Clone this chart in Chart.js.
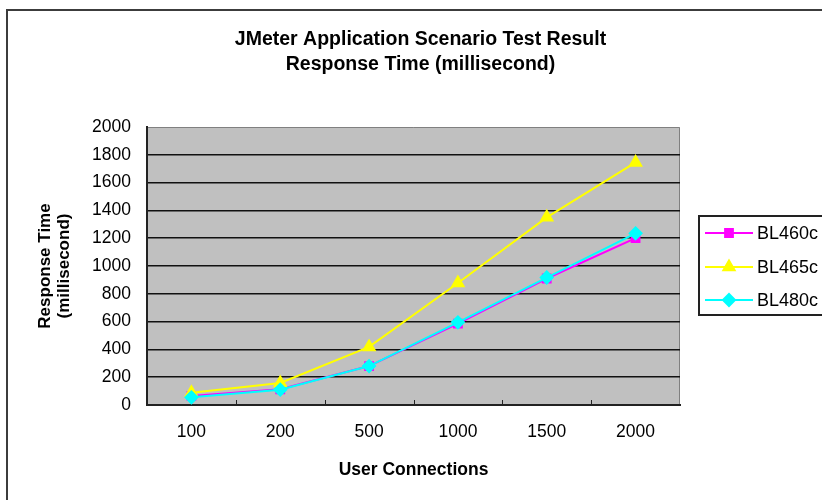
<!DOCTYPE html>
<html>
<head>
<meta charset="utf-8">
<script src="https://cdn.jsdelivr.net/npm/chart.js@4"></script>
<style>
  html, body { margin: 0; padding: 0; background: #fff; }
  #wrap { position: relative; width: 822px; height: 500px; }
</style>
</head>
<body>
<div id="wrap"><canvas id="js--chart" width="822" height="500"></canvas></div>
<script>
const connections = ['100', '200', '500', '1000', '1500', '2000'];
const bl460c = [65, 113, 280, 585, 910, 1200];
const bl465c = [88, 158, 418, 878, 1350, 1745];
const bl480c = [55, 110, 280, 595, 917, 1235];
const seriesNames = ['BL460c', 'BL465c', 'BL480c'];
const titleLines = ['JMeter Application Scenario Test Result', 'Response Time (millisecond)'];
const yTitle = ['Response Time', '(millisecond)'];
const xTitle = 'User Connections';

const FONT = '"Liberation Sans", Arial, sans-serif';

// background, outer frame and grey plot area
const backdrop = {
    id: 'backdrop',
    beforeDraw(chart) {
        const ctx = chart.ctx;
        const a = chart.chartArea;
        ctx.save();
        ctx.fillStyle = '#fff';
        ctx.fillRect(0, 0, chart.width, chart.height);
        ctx.strokeStyle = '#3c3c3c';
        ctx.lineWidth = 2;
        ctx.beginPath();
        ctx.moveTo(7, chart.height);
        ctx.lineTo(7, 10);
        ctx.lineTo(chart.width, 10);
        ctx.stroke();
        ctx.fillStyle = '#c0c0c0';
        ctx.fillRect(a.left, a.top, a.right - a.left, a.bottom - a.top);
        ctx.strokeStyle = '#808080';
        ctx.lineWidth = 1;
        ctx.beginPath();
        ctx.moveTo(a.left, a.top + 0.5);
        ctx.lineTo(a.right - 0.5, a.top + 0.5);
        ctx.lineTo(a.right - 0.5, a.bottom);
        ctx.stroke();
        ctx.restore();
    }
};

// title, inside tick marks on x axis, legend box
const extras = {
    id: 'extras',
    afterDraw(chart) {
        const ctx = chart.ctx;
        const a = chart.chartArea;
        const xs = chart.scales.x;
        ctx.save();

        // tick marks between categories, pointing up into the plot
        ctx.strokeStyle = '#222';
        ctx.lineWidth = 1;
        const step = (a.right - a.left) / connections.length;
        for (let i = 1; i < connections.length; i++) {
            const x = Math.round(xs.getPixelForValue(i) - step / 2) + 0.5;
            ctx.beginPath();
            ctx.moveTo(x, a.bottom);
            ctx.lineTo(x, a.bottom - 5);
            ctx.stroke();
        }

        // title
        ctx.fillStyle = '#000';
        ctx.font = 'bold 19.5px ' + FONT;
        ctx.textAlign = 'center';
        ctx.textBaseline = 'alphabetic';
        ctx.fillText(titleLines[0], 420.5, 45);
        ctx.fillText(titleLines[1], 420.5, 70);

        // legend
        ctx.strokeStyle = '#222';
        ctx.lineWidth = 2;
        ctx.strokeRect(699, 216, 140, 99);
        const rows = [233, 267, 300];
        chart.data.datasets.forEach((ds, i) => {
            const y = rows[i];
            ctx.strokeStyle = ds.borderColor;
            ctx.lineWidth = 2;
            ctx.beginPath();
            ctx.moveTo(705, y);
            ctx.lineTo(753, y);
            ctx.stroke();
            ctx.fillStyle = ds.pointBackgroundColor;
            Chart.helpers.drawPoint(ctx, {
                pointStyle: ds.pointStyle,
                radius: ds.pointRadius,
                rotation: 0,
                borderWidth: 1
            }, 729, y);
            ctx.fillStyle = '#000';
            ctx.font = '18px ' + FONT;
            ctx.textAlign = 'left';
            ctx.textBaseline = 'middle';
            ctx.fillText(ds.label, 757, y + 1);
        });
        ctx.restore();
    }
};

const data = {
    labels: connections,
    datasets: [
        {
            label: seriesNames[0],
            data: bl460c,
            borderColor: '#ff00ff',
            backgroundColor: '#ff00ff',
            pointBackgroundColor: '#ff00ff',
            pointBorderColor: '#ff00ff',
            pointStyle: 'rect',
            pointRadius: 5.5,
            borderWidth: 2,
            order: 3
        },
        {
            label: seriesNames[1],
            data: bl465c,
            borderColor: '#ffff00',
            backgroundColor: '#ffff00',
            pointBackgroundColor: '#ffff00',
            pointBorderColor: '#ffff00',
            pointStyle: 'triangle',
            pointRadius: 6.5,
            borderWidth: 2,
            order: 2
        },
        {
            label: seriesNames[2],
            data: bl480c,
            borderColor: '#00ffff',
            backgroundColor: '#00ffff',
            pointBackgroundColor: '#00ffff',
            pointBorderColor: '#00ffff',
            pointStyle: 'rectRot',
            pointRadius: 6,
            borderWidth: 2,
            order: 1
        }
    ]
};

const config = {
    type: 'line',
    data: data,
    options: {
        responsive: false,
        animation: false,
        layout: {
            padding: { top: 127, left: 0, right: 142, bottom: 0 }
        },
        elements: {
            line: { tension: 0 }
        },
        scales: {
            x: {
                offset: true,
                afterFit(scale) { scale.height = 95; },
                grid: { display: false, drawTicks: false },
                border: { color: '#222', width: 2 },
                ticks: {
                    color: '#000',
                    padding: 17,
                    font: { family: FONT, size: 17.5 }
                },
                title: {
                    display: true,
                    text: xTitle,
                    color: '#000',
                    font: { family: FONT, size: 17.5, weight: 'bold' },
                    padding: { top: 0, bottom: 19.5 }
                }
            },
            y: {
                min: 0,
                max: 2000,
                afterFit(scale) { scale.width = 147; },
                grid: {
                    drawTicks: false,
                    lineWidth: 1.5,
                    color: ctx => ctx.tick && ctx.tick.value === 2000 ? 'rgba(0,0,0,0)' : '#111'
                },
                border: { color: '#222', width: 2 },
                ticks: {
                    stepSize: 200,
                    color: '#000',
                    padding: 16,
                    font: { family: FONT, size: 17.5 },
                    callback: value => String(value)
                },
                title: {
                    display: true,
                    text: yTitle,
                    color: '#000',
                    font: { family: FONT, size: 17, weight: 'bold', lineHeight: 1.12 },
                    padding: { top: 35.5, bottom: 0 }
                }
            }
        },
        plugins: {
            legend: { display: false },
            title: { display: false },
            tooltip: { enabled: false }
        }
    },
    plugins: [backdrop, extras]
};

new Chart(document.getElementById('js--chart'), config);
</script>
</body>
</html>
